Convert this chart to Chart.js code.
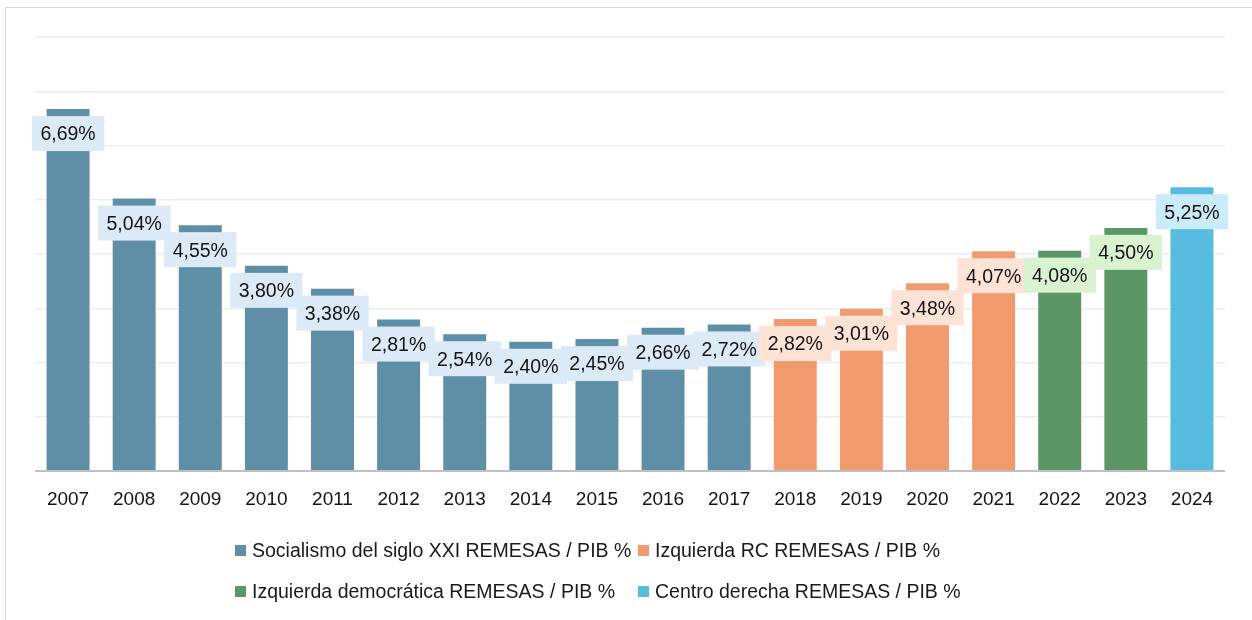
<!DOCTYPE html>
<html>
<head>
<meta charset="utf-8">
<script src="https://cdn.jsdelivr.net/npm/chart.js@4.4.1/dist/chart.umd.min.js"></script>
<style>
html,body{margin:0;padding:0;background:#fff;}
#wrap{position:relative;width:1252px;height:620px;overflow:hidden;background:#fff;}
#frame{position:absolute;left:5px;top:7px;width:1400px;height:800px;border-top:1.5px solid #d9d9d9;border-left:1.5px solid #d9d9d9;box-sizing:border-box;}
#c{position:absolute;left:0;top:0;}
#legend{position:absolute;left:235px;top:530px;display:grid;grid-template-columns:403px auto;grid-auto-rows:41px;font-family:"Liberation Sans",Arial,sans-serif;font-size:19.5px;color:#1a1a1a;}
#legend .it{display:flex;align-items:center;white-space:nowrap;}
#legend .bx{width:11px;height:11px;margin-right:6px;flex:none;}
</style>
</head>
<body>
<div id="wrap">
  <div id="frame"></div>
  <canvas id="c" width="1252" height="620"></canvas>
  <div id="legend"></div>
</div>
<script>
const years = ['2007','2008','2009','2010','2011','2012','2013','2014','2015','2016','2017','2018','2019','2020','2021','2022','2023','2024'];
const socialismo = [6.69,5.04,4.55,3.80,3.38,2.81,2.54,2.40,2.45,2.66,2.72,null,null,null,null,null,null,null];
const izquierdaRC = [null,null,null,null,null,null,null,null,null,null,null,2.82,3.01,3.48,4.07,null,null,null];
const izquierdaDem = [null,null,null,null,null,null,null,null,null,null,null,null,null,null,null,4.08,4.50,null];
const centroDerecha = [null,null,null,null,null,null,null,null,null,null,null,null,null,null,null,null,null,5.25];
const seriesNames = ['Socialismo del siglo XXI REMESAS / PIB %','Izquierda RC REMESAS / PIB %','Izquierda democrática REMESAS / PIB %','Centro derecha REMESAS / PIB %'];
const barColors = ['#5e8fa6','#f09a6d','#5c9666','#57badf'];
const labelBgs = ['#dce9f6','#fde3d6','#d9f2d0','#caebf9'];
const yTicks = [0,1,2,3,4,5,6,7,8];

const seriesData = [socialismo, izquierdaRC, izquierdaDem, centroDerecha];

const labelPlugin = {
  id: 'valueLabels',
  afterDraw(chart) {
    const ctx = chart.ctx;
    ctx.save();
    ctx.font = '19.5px "Liberation Sans", Arial, sans-serif';
    ctx.textAlign = 'center';
    ctx.textBaseline = 'middle';
    chart.data.datasets.forEach((ds, i) => {
      const meta = chart.getDatasetMeta(i);
      meta.data.forEach((bar, j) => {
        const v = ds.data[j];
        if (v == null) return;
        const txt = v.toFixed(2).replace('.', ',') + '%';
        const w = ctx.measureText(txt).width + 17;
        const h = 35;
        const cx = bar.x, cy = bar.y + 25.5;
        ctx.fillStyle = labelBgs[i];
        ctx.fillRect(cx - w / 2, cy - h / 2, w, h);
        ctx.fillStyle = '#141414';
        ctx.fillText(txt, cx, cy + 1.5);
      });
    });
    ctx.restore();
  }
};

const chart = new Chart(document.getElementById('c'), {
  type: 'bar',
  data: {
    labels: years,
    datasets: seriesData.map((d, i) => ({
      label: seriesNames[i],
      data: d,
      backgroundColor: barColors[i],
      borderColor: 'rgba(255,255,255,0.35)',
      borderWidth: 1,
      barPercentage: 0.68,
      categoryPercentage: 1
    }))
  },
  options: {
    responsive: false,
    animation: false,
    devicePixelRatio: 1,
    layout: { padding: { left: 35, right: 27, top: 37, bottom: 0 } },
    plugins: { legend: { display: false }, tooltip: { enabled: false } },
    scales: {
      x: {
        stacked: true,
        grid: { display: false, drawTicks: false },
        border: { display: false },
        ticks: { color: '#141414', font: { family: '"Liberation Sans", Arial, sans-serif', size: 19 }, padding: 17, maxRotation: 0 },
        afterFit: (s) => { s.height = 149; }
      },
      y: {
        stacked: true,
        min: yTicks[0],
        max: yTicks[yTicks.length - 1],
        z: 1,
        afterBuildTicks: (s) => { s.ticks = yTicks.map(v => ({ value: v })); },
        ticks: { display: false },
        border: { display: false },
        grid: {
          drawTicks: false,
          color: (c) => c.tick && c.tick.value === 0 ? '#bfbfbf' : 'rgba(0,0,0,0.075)',
          lineWidth: (c) => c.tick && c.tick.value === 0 ? 2 : 1.4
        }
      }
    }
  },
  plugins: [labelPlugin]
});

const legendEl = document.getElementById('legend');
chart.data.datasets.forEach((ds) => {
  const it = document.createElement('div');
  it.className = 'it';
  const bx = document.createElement('span');
  bx.className = 'bx';
  bx.style.background = ds.backgroundColor;
  const tx = document.createElement('span');
  tx.textContent = ds.label;
  it.appendChild(bx);
  it.appendChild(tx);
  legendEl.appendChild(it);
});
</script>
</body>
</html>
